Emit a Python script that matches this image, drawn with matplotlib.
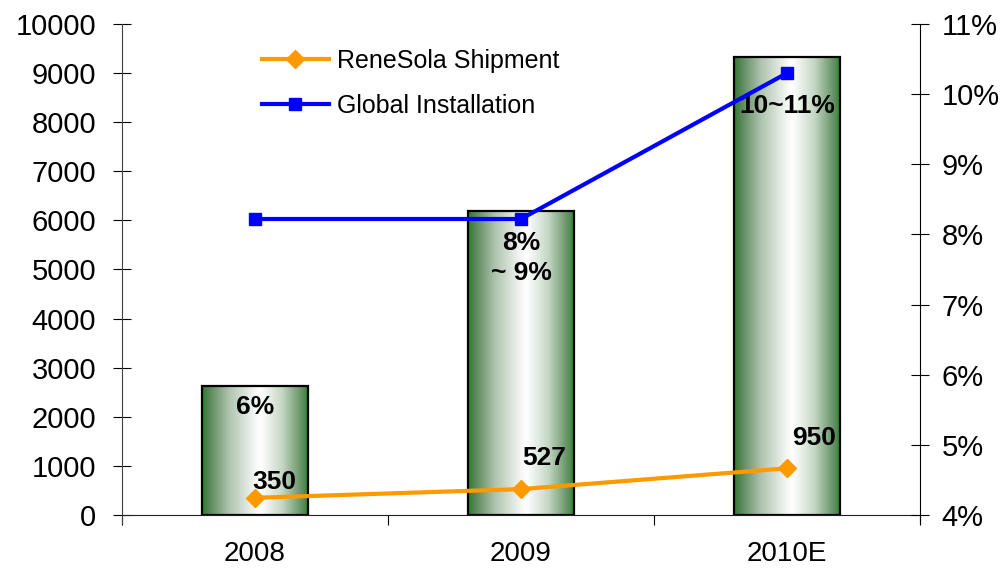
import matplotlib
matplotlib.use('Agg')
import matplotlib.pyplot as plt
import numpy as np
from matplotlib.colors import LinearSegmentedColormap
from matplotlib.patches import Rectangle
from matplotlib.lines import Line2D

plt.rcParams['font.family'] = ['Liberation Sans', 'DejaVu Sans']

# ---- dados ----
anos = ['2008', '2009', '2010E']
instalacao_global = [2620, 6200, 9330]
renesola = [350, 527, 950]
participacao = [8.22, 8.22, 10.3]
rotulos_barra = ['6%', '8%\n~ 9%', '10~11%']
rotulos_renesola = ['350', '527', '950']

fig = plt.figure(figsize=(10.07, 5.70), dpi=100)
ax = fig.add_axes([0.1211, 0.0965, 0.7925, 0.8614])

# gradiente verde das barras
cmap = LinearSegmentedColormap.from_list('verde', [
    (0.0, '#1f8a1f'), (0.04, '#4c7f4c'), (0.25, '#aec3ae'),
    (0.5, '#f6f9f6'), (0.55, '#ffffff'), (0.75, '#c6d7c6'),
    (0.95, '#5a8c5a'), (1.0, '#1f8a1f')])
grad = np.linspace(0, 1, 256).reshape(1, -1)
largura = 0.4
x = np.arange(len(anos))
for xi, h in zip(x, instalacao_global):
    ax.imshow(grad, extent=[xi - largura / 2, xi + largura / 2, 0, h],
              aspect='auto', cmap=cmap, zorder=2, interpolation='bicubic')
    ax.add_patch(Rectangle((xi - largura / 2, 0), largura, h, fill=False,
                           ec='black', lw=1.6, zorder=3))

# linha laranja (eixo esquerdo)
ax.plot(x, renesola, color='#ff9900', lw=3, marker='D', ms=9, zorder=5)

ax.set_xlim(-0.5, 2.5)
ax.set_ylim(0, 10000)
ax.set_yticks(np.arange(0, 10001, 1000))
ax.tick_params(axis='y', direction='inout', length=13, labelsize=21, width=0.8, pad=12)
ax.set_xticks([-0.5, 0.5, 1.5, 2.5])
ax.set_xticklabels([])
ax.tick_params(axis='x', which='major', direction='out', length=7, width=0.8)
ax.set_xticks(x, minor=True)
ax.set_xticklabels(anos, minor=True, fontsize=20)
ax.tick_params(axis='x', which='minor', length=0, pad=19)
ax.spines['top'].set_visible(False)
ax.spines['right'].set_visible(False)
ax.spines['left'].set_bounds(-170, 10000)
ax.spines['left'].set_color('#404040')
ax.spines['bottom'].set_color('#202020')

# rotulos dentro das barras
pos_barra = [(0, 2200), (1, 5230), (2, 8330)]
for (xi, yi), t in zip(pos_barra, rotulos_barra):
    ax.text(xi, yi, t, ha='center', va='center', fontsize=19,
            fontweight='bold', zorder=6, linespacing=1.3)
# rotulos da linha laranja
desloc = [(-0.01, 320), (0.005, 630), (0.02, 620)]
for xi, yi, t, (dx, dy) in zip(x, renesola, rotulos_renesola, desloc):
    ax.text(xi + dx, yi + dy, t, ha='left', va='center', fontsize=19,
            fontweight='bold', zorder=6)

# eixo direito com a linha azul
ax2 = ax.twinx()
ax2.plot(x, participacao, color='#0000ff', lw=3, marker='s', ms=9, zorder=5)
ax2.set_ylim(4, 11)
ax2.set_yticks(range(4, 12))
ax2.set_yticklabels([f'{v}%' for v in range(4, 12)])
ax2.tick_params(axis='y', direction='inout', length=13, labelsize=21, width=0.8, pad=9)
ax2.spines['top'].set_visible(False)
ax2.spines['left'].set_visible(False)
ax2.spines['bottom'].set_visible(False)
ax2.spines['right'].set_bounds(3.88, 11)

# legenda
h1 = Line2D([], [], color='#ff9900', lw=3, marker='D', ms=9)
h2 = Line2D([], [], color='#0000ff', lw=3, marker='s', ms=9)
ax2.legend([h1, h2], ['ReneSola Shipment', 'Global Installation'],
           loc='upper left', bbox_to_anchor=(0.175, 0.95), frameon=False,
           fontsize=18, handlelength=2.7, labelspacing=0.85, handletextpad=0.3,
           borderpad=0, borderaxespad=0)

fig.savefig('out.png', dpi=100)
